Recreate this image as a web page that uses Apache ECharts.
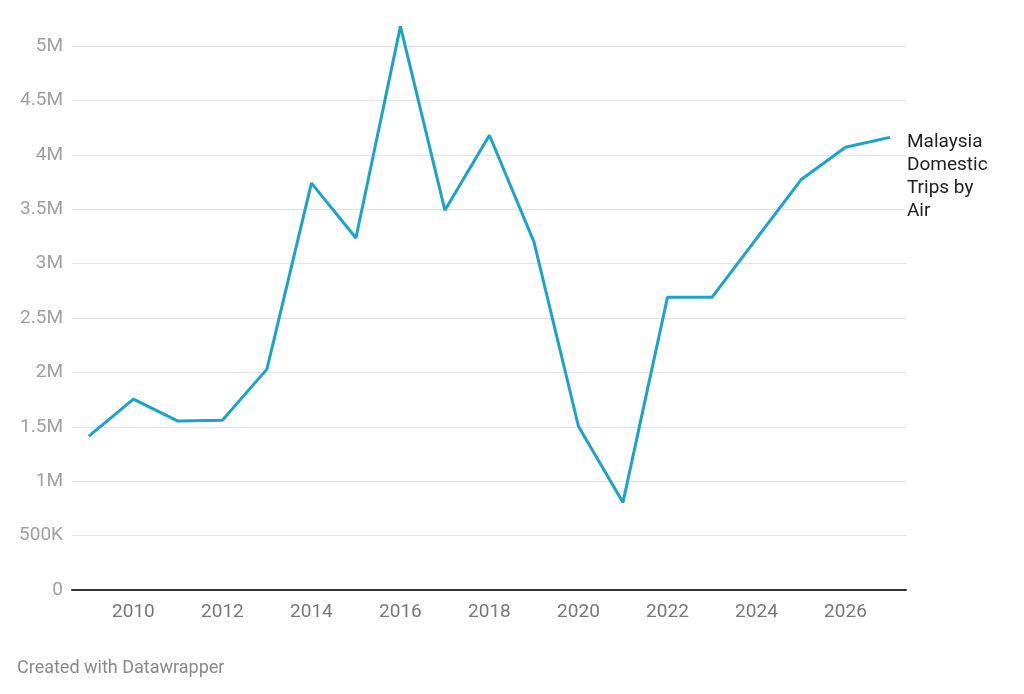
<!DOCTYPE html>
<html>
<head>
<meta charset="utf-8">
<script src="https://cdn.jsdelivr.net/npm/echarts@6/dist/echarts.min.js"></script>
<style>
html,body{margin:0;padding:0;background:#fff;}
#c{width:1024px;height:694px;}
</style>
</head>
<body>
<div id="c"></div>
<script>
const years = [2009,2010,2011,2012,2013,2014,2015,2016,2017,2018,2019,2020,2021,2022,2023,2024,2025,2026,2027];
const trips = [1415000,1755000,1553000,1560000,2030000,3740000,3235000,5180000,3490000,4180000,3200000,1505000,805000,2690000,2690000,3230000,3770000,4070000,4160000];
const xTickLabels = [2010,2012,2014,2016,2018,2020,2022,2024,2026];
const seriesName = 'Malaysia Domestic Trips by Air';
const footer = 'Created with Datawrapper';

const chart = echarts.init(document.getElementById('c'));
function fmtY(v){
  if (v === 0) return '0';
  if (v >= 1000000) return (v/1000000) + 'M';
  return (v/1000) + 'K';
}
chart.setOption({
  animation: false,
  textStyle: {fontFamily: 'Roboto'},
  grid: {left: 72, right: 118, top: 46, bottom: 104},
  xAxis: {
    type: 'value',
    min: 2008.62,
    max: 2027.36,
    axisLine: {show: true, onZero: true, lineStyle: {color: '#333', width: 2}},
    axisTick: {show: false},
    splitLine: {show: false},
    axisLabel: {
      customValues: xTickLabels,
      color: '#777', fontSize: 19, margin: 13, fontFamily: 'Roboto',
      formatter: v => String(v)
    }
  },
  yAxis: {
    type: 'value',
    min: 0, max: 5000000, interval: 500000,
    axisLine: {show: false},
    axisTick: {show: false},
    splitLine: {show: true, lineStyle: {color: '#e3e3e3', width: 1}},
    axisLabel: {color: '#a0a0a0', fontSize: 19, margin: 9, fontFamily: 'Roboto', formatter: fmtY}
  },
  graphic: [{
    type: 'text', left: 17, top: 659,
    style: {text: footer, fill: '#8a8a8a', fontSize: 18, fontFamily: 'Roboto'}
  }],
  series: [{
    name: seriesName,
    type: 'line',
    data: years.map((y,i)=>[y, trips[i]]),
    showSymbol: false,
    clip: false,
    lineStyle: {color: '#1aa3cc', width: 3},
    itemStyle: {color: '#1aa3cc'},
    endLabel: {
      show: true,
      formatter: 'Malaysia\nDomestic\nTrips by\nAir',
      color: '#222', fontSize: 19, lineHeight: 23, fontFamily: 'Roboto',
      align: 'left', verticalAlign: 'top',
      distance: 17, offset: [0, -7]
    }
  }]
});
</script>
</body>
</html>
